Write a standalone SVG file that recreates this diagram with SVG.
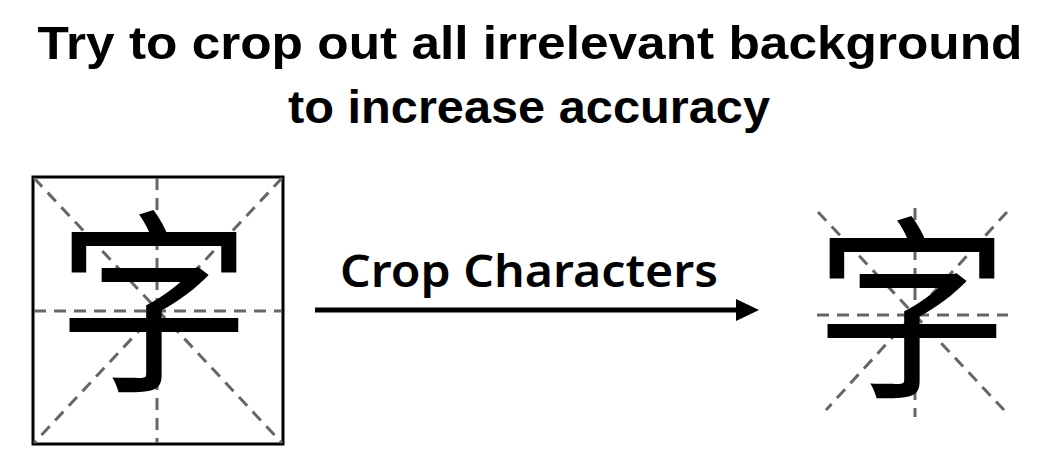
<svg xmlns="http://www.w3.org/2000/svg" width="1044" height="476" viewBox="0 0 1044 476">
<defs>
<style>
.title{font-family:"Liberation Sans","Noto Sans",Arial,sans-serif;font-weight:bold;font-size:47px;fill:#000}
.label{font-family:"Noto Sans","Liberation Sans",Arial,sans-serif;font-weight:600;font-size:45px;fill:#000}
.han{font-family:"Noto Sans CJK SC","Noto Sans CJK JP",sans-serif;font-size:196px;fill:#000}
.dash{stroke:#666;stroke-width:3;stroke-dasharray:12 8;fill:none}
</style>
</defs>
<rect width="1044" height="476" fill="#fff"/>
<g id="title">
<text class="title" x="530" y="59" text-anchor="middle" textLength="985" lengthAdjust="spacingAndGlyphs">Try to crop out all irrelevant background</text>
<text class="title" x="529" y="123" text-anchor="middle" textLength="482" lengthAdjust="spacingAndGlyphs">to increase accuracy</text>
</g>
<g id="source">
<rect x="33" y="177" width="250" height="267" fill="none" stroke="#000" stroke-width="3"/>
<line class="dash" x1="157" y1="178" x2="157" y2="443"/>
<line class="dash" x1="34" y1="311" x2="282" y2="311"/>
<line class="dash" x1="34" y1="178" x2="282" y2="443"/>
<line class="dash" x1="282" y1="178" x2="34" y2="443"/>
<text class="han" x="154" y="376" text-anchor="middle">字</text>
</g>
<g id="connectors">
<line x1="315" y1="310" x2="738" y2="310" stroke="#000" stroke-width="5"/>
<polygon points="736,299 759,310 736,321" fill="#000"/>
<text class="label" x="529" y="287" text-anchor="middle" textLength="378" lengthAdjust="spacingAndGlyphs">Crop Characters</text>
</g>
<g id="result">
<line class="dash" x1="915" y1="208" x2="915" y2="417"/>
<line class="dash" x1="817" y1="315" x2="1008" y2="315"/>
<line class="dash" x1="818" y1="212" x2="1004" y2="410"/>
<line class="dash" x1="1007" y1="212" x2="826" y2="410"/>
<text class="han" x="912" y="382" text-anchor="middle">字</text>
</g>
</svg>
